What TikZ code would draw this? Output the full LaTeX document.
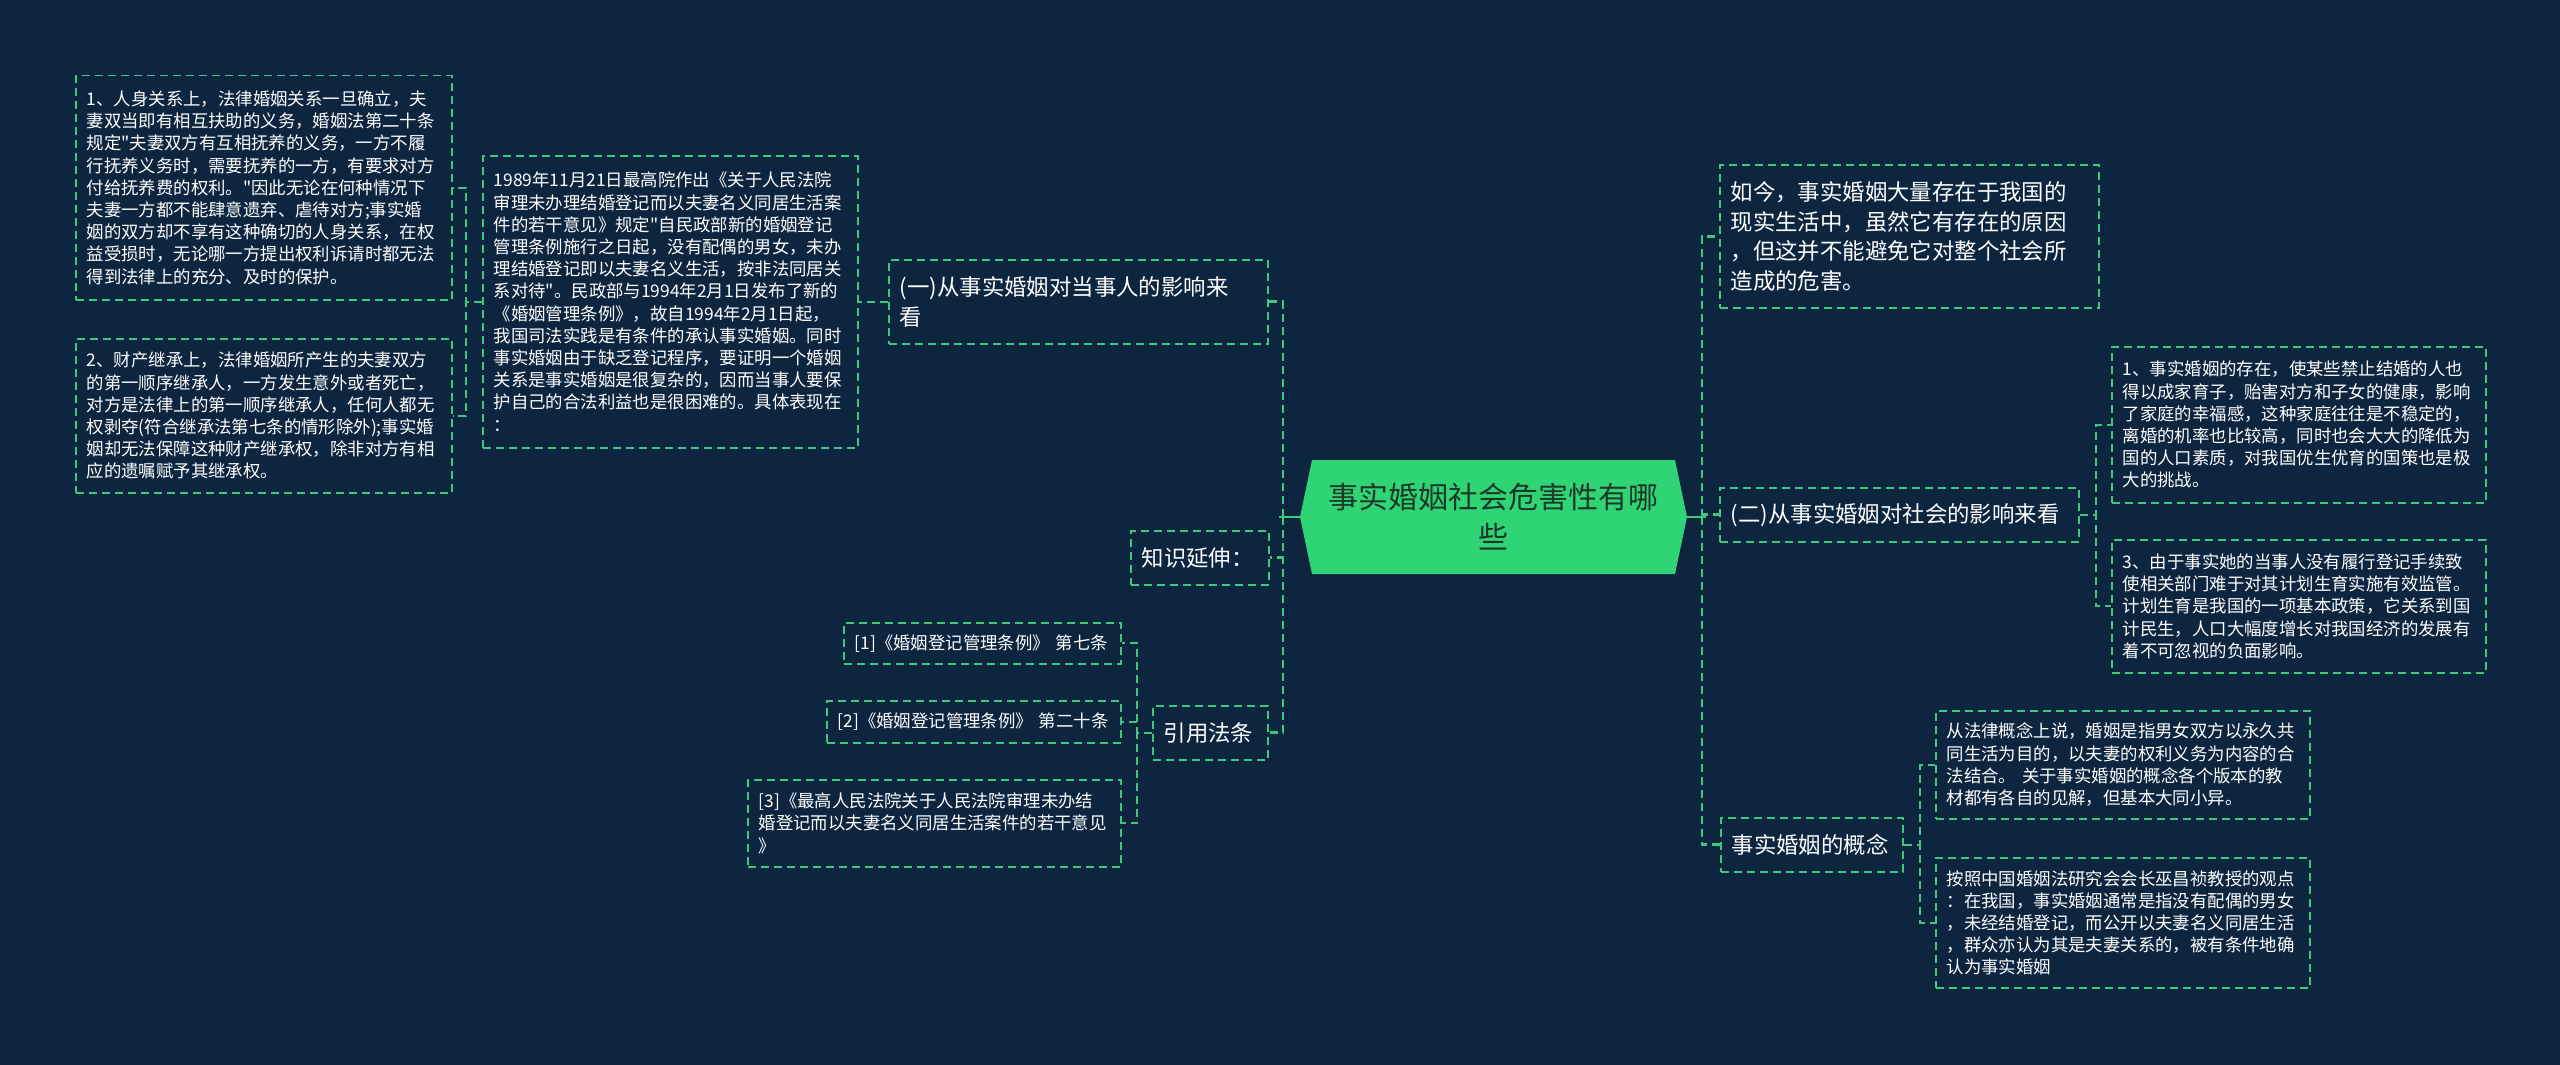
\documentclass[tikz,border=0pt]{standalone}
\usepackage{fontspec}
\newfontfamily\cjk{Noto Sans CJK SC}
\definecolor{bg}{RGB}{13,37,63}
\definecolor{lg}{RGB}{62,200,122}
\definecolor{hexg}{RGB}{47,213,116}
\definecolor{hext}{RGB}{28,56,42}
\tikzset{
  box/.style={draw=lg, line width=1.5pt, dash pattern=on 8pt off 5pt, text=white,
    align=left, inner xsep=11pt, inner ysep=3pt, anchor=north west},
  small/.style={box, font=\cjk\fontsize{17.4}{22.2}\selectfont},
  mid/.style={box, font=\cjk\fontsize{22.4}{29.5}\selectfont},
  conn/.style={draw=lg, line width=2pt, dash pattern=on 8pt off 5pt},
  mainconn/.style={conn, line width=2.6pt},
  stub/.style={draw=lg, line width=2.6pt},
}
\begin{document}
\begin{tikzpicture}[x=1pt,y=-1pt]
\fill[bg] (0,0) rectangle (2560,1065);
\useasboundingbox (0,0) rectangle (2560,1065);

% central hexagon
\fill[hexg] (1300,517) -- (1312,460) -- (1675,460) -- (1687,517) -- (1675,574) -- (1312,574) -- cycle;
\coordinate (hexW) at (1300,517);
\coordinate (hexE) at (1687,517);
\node[font=\cjk\fontsize{30}{40}\selectfont, text=hext, align=center] (root) at (1493.5,517) {事实婚姻社会危害性有哪\\些};

% left side
\node[mid, text width=357pt, minimum height=84pt] (N1) at (888,259) {(一)从事实婚姻对当事人的影响来\\看};
\node[small, text width=353pt, minimum height=292pt] (B) at (482,155) {1989年11月21日最高院作出《关于人民法院\\审理未办理结婚登记而以夫妻名义同居生活案\\件的若干意见》规定"自民政部新的婚姻登记\\管理条例施行之日起，没有配偶的男女，未办\\理结婚登记即以夫妻名义生活，按非法同居关\\系对待"。民政部与1994年2月1日发布了新的\\《婚姻管理条例》，故自1994年2月1日起，\\我国司法实践是有条件的承认事实婚姻。同时\\事实婚姻由于缺乏登记程序，要证明一个婚姻\\关系是事实婚姻是很复杂的，因而当事人要保\\护自己的合法利益也是很困难的。具体表现在\\：};
\node[small, text width=354pt, minimum height=224pt] (L1) at (75,75) {1、人身关系上，法律婚姻关系一旦确立，夫\\妻双当即有相互扶助的义务，婚姻法第二十条\\规定"夫妻双方有互相抚养的义务，一方不履\\行抚养义务时，需要抚养的一方，有要求对方\\付给抚养费的权利。"因此无论在何种情况下\\夫妻一方都不能肆意遗弃、虐待对方;事实婚\\姻的双方却不享有这种确切的人身关系，在权\\益受损时，无论哪一方提出权利诉请时都无法\\得到法律上的充分、及时的保护。};
\node[small, text width=354pt, minimum height=154pt] (L2) at (75,338) {2、财产继承上，法律婚姻所产生的夫妻双方\\的第一顺序继承人，一方发生意外或者死亡，\\对方是法律上的第一顺序继承人，任何人都无\\权剥夺(符合继承法第七条的情形除外);事实婚\\姻却无法保障这种财产继承权，除非对方有相\\应的遗嘱赋予其继承权。};
\node[mid, text width=116pt, minimum height=54pt] (K) at (1130,530) {知识延伸：};
\node[mid, text width=93pt, minimum height=54pt] (R) at (1152,705) {引用法条};
\node[small, text width=255pt, minimum height=41pt] (ref1) at (843,622) {{[1]}《婚姻登记管理条例》 第七条};
\node[small, text width=272pt, minimum height=42pt] (ref2) at (826,700) {{[2]}《婚姻登记管理条例》 第二十条};
\node[small, text width=351pt, minimum height=87pt] (ref3) at (747,779) {{[3]}《最高人民法院关于人民法院审理未办结\\婚登记而以夫妻名义同居生活案件的若干意见\\》};

% right side
\node[mid, text width=357pt, minimum height=143pt] (J) at (1719,164) {如今，事实婚姻大量存在于我国的\\现实生活中，虽然它有存在的原因\\，但这并不能避免它对整个社会所\\造成的危害。};
\node[mid, text width=337pt, minimum height=54pt] (N2) at (1719,487) {(二)从事实婚姻对社会的影响来看};
\node[mid, text width=160pt, minimum height=54pt] (G) at (1720,817) {事实婚姻的概念};
\node[small, text width=352pt, minimum height=156pt] (R1) at (2111,346) {1、事实婚姻的存在，使某些禁止结婚的人也\\得以成家育子，贻害对方和子女的健康，影响\\了家庭的幸福感，这种家庭往往是不稳定的，\\离婚的机率也比较高，同时也会大大的降低为\\国的人口素质，对我国优生优育的国策也是极\\大的挑战。};
\node[small, text width=352pt, minimum height=133pt] (R3) at (2111,539) {3、由于事实她的当事人没有履行登记手续致\\使相关部门难于对其计划生育实施有效监管。\\计划生育是我国的一项基本政策，它关系到国\\计民生，人口大幅度增长对我国经济的发展有\\着不可忽视的负面影响。};
\node[small, text width=352pt, minimum height=108pt] (C1) at (1935,710) {从法律概念上说，婚姻是指男女双方以永久共\\同生活为目的，以夫妻的权利义务为内容的合\\法结合。 关于事实婚姻的概念各个版本的教\\材都有各自的见解，但基本大同小异。};
\node[small, text width=352pt, minimum height=130pt] (C2) at (1935,857) {按照中国婚姻法研究会会长巫昌祯教授的观点\\：在我国，事实婚姻通常是指没有配偶的男女\\，未经结婚登记，而公开以夫妻名义同居生活\\，群众亦认为其是夫妻关系的，被有条件地确\\认为事实婚姻};

% connectors from root
\coordinate (LT) at (1283,517);
\coordinate (RT) at (1702,517);
\draw[mainconn] (LT) |- (N1.east);
\draw[mainconn] (LT) |- (K.east);
\draw[mainconn] (LT) |- (R.east);
\draw[mainconn] (RT) |- (J.west);
\draw[mainconn] (RT) |- (N2.west);
\draw[mainconn] (RT) |- (G.west);
\draw[stub] (hexW) -- ([xshift=-4pt]LT);
\draw[stub] (hexE) -- ([xshift=4pt]RT);

% second level
\draw[conn] (N1.west) -- (B.east);
\draw[conn] (B.west) -- ++(-16,0) |- (L1.east);
\draw[conn] (B.west) -- ++(-16,0) |- (L2.east);
\draw[conn] (R.west) -- ++(-15,0) |- (ref1.east);
\draw[conn] (R.west) -- ++(-15,0) |- (ref2.east);
\draw[conn] (R.west) -- ++(-15,0) |- (ref3.east);
\draw[conn] (N2.east) -- ++(16,0) |- (R1.west);
\draw[conn] (N2.east) -- ++(16,0) |- (R3.west);
\draw[conn] (G.east) -- ++(16,0) |- (C1.west);
\draw[conn] (G.east) -- ++(16,0) |- (C2.west);
\end{tikzpicture}
\end{document}
